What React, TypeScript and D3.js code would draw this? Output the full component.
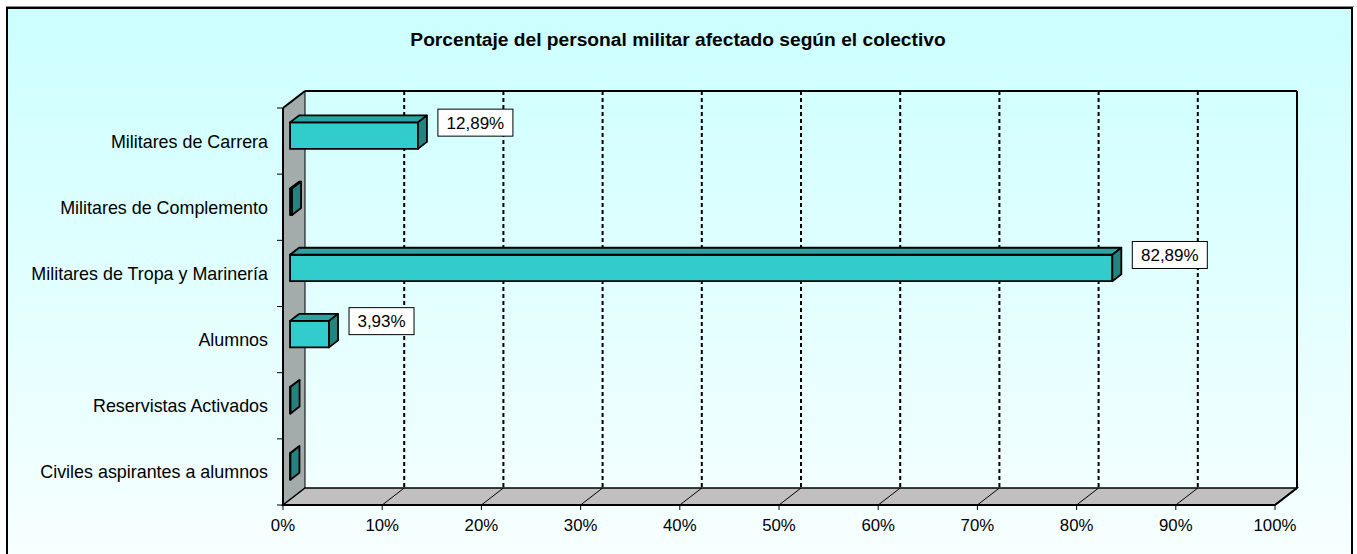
import React from "react";
import * as d3 from "d3";

const categories = [
  "Militares de Carrera",
  "Militares de Complemento",
  "Militares de Tropa y Marinería",
  "Alumnos",
  "Reservistas Activados",
  "Civiles aspirantes a alumnos",
];
const values = [12.89, 0.2, 82.89, 3.93, 0.05, 0.04];
const dataLabels = ["12,89%", null, "82,89%", "3,93%", null, null];
const xTicks = [0, 10, 20, 30, 40, 50, 60, 70, 80, 90, 100];
const xTickLabels = ["0%", "10%", "20%", "30%", "40%", "50%", "60%", "70%", "80%", "90%", "100%"];
const title = "Porcentaje del personal militar afectado según el colectivo";

const W = 1357;
const H = 554;
const FX0 = 283;
const FX1 = 1275;
const FY0 = 108;
const FY1 = 505;
const DX = 22;
const DY = -17;
const ZF = 0.32;
const ZB = 0.73;
const FONT = "'Liberation Sans', Arial, sans-serif";

export default function App() {
  const x = d3.scaleLinear().domain([0, 100]).range([FX0, FX1]);
  const y = d3.scaleBand().domain(categories).range([FY0, FY1]).padding(0);
  const step = y.step();
  const barH = step / 2.5;
  const P = (xv: number, yv: number, z: number): [number, number] => [x(xv) + z * DX, yv + z * DY];
  const poly = (pts: [number, number][]) => pts.map((p) => p.join(",")).join(" ");

  return (
    <svg width={W} height={H} style={{ position: "absolute", left: 0, top: 0 }} fontFamily={FONT}>
      <defs>
        <linearGradient id="bg" x1="0" y1="0" x2="0" y2="1">
          <stop offset="0" stopColor="#ccffff" />
          <stop offset="1" stopColor="#f8ffff" />
        </linearGradient>
      </defs>
      <rect x={0} y={0} width={W} height={H} fill="#ffffff" />
      <rect x={7} y={8} width={1345} height={560} fill="url(#bg)" stroke="#000" strokeWidth={2} />
      <line x1={6} y1={6.5} x2={1354} y2={6.5} stroke="#888" strokeWidth={1} />

      <text x={678} y={46} textAnchor="middle" fontWeight="bold" fontSize={19.2} fill="#000">
        {title}
      </text>

      {/* left wall */}
      <polygon
        points={poly([[FX0, FY0], [FX0, FY1], [FX0 + DX, FY1 + DY], [FX0 + DX, FY0 + DY]])}
        fill="#a3abab"
        stroke="#000"
        strokeWidth={1}
      />
      {/* floor */}
      <polygon
        points={poly([[FX0, FY1], [FX1, FY1], [FX1 + DX, FY1 + DY], [FX0 + DX, FY1 + DY]])}
        fill="#c0c0c0"
        stroke="#000"
        strokeWidth={1.5}
      />
      {/* floor diagonals */}
      {xTicks.slice(1, -1).map((t) => (
        <line key={"fd" + t} x1={x(t)} y1={FY1} x2={x(t) + DX} y2={FY1 + DY} stroke="#000" strokeWidth={1} />
      ))}
      {/* back gridlines */}
      {xTicks.slice(1, -1).map((t) => (
        <line
          key={"g" + t}
          x1={x(t) + DX}
          y1={FY0 + DY}
          x2={x(t) + DX}
          y2={FY1 + DY}
          stroke="#000"
          strokeWidth={2}
          strokeDasharray="4,3"
        />
      ))}
      {/* back wall edges */}
      <line x1={FX0 + DX} y1={FY0 + DY} x2={FX1 + DX} y2={FY0 + DY} stroke="#000" strokeWidth={2} />
      <line x1={FX1 + DX} y1={FY0 + DY} x2={FX1 + DX} y2={FY1 + DY} stroke="#000" strokeWidth={2} />
      <line x1={FX0} y1={FY0} x2={FX0 + DX} y2={FY0 + DY} stroke="#000" strokeWidth={2} />
      <line x1={FX1} y1={FY1} x2={FX1 + DX} y2={FY1 + DY} stroke="#000" strokeWidth={2} />
      {/* front axes */}
      <line x1={FX0} y1={FY0} x2={FX0} y2={FY1} stroke="#000" strokeWidth={2} />
      <line x1={FX0} y1={FY1} x2={FX1} y2={FY1} stroke="#000" strokeWidth={2} />
      {d3.range(categories.length + 1).map((i) => (
        <line key={"yt" + i} x1={FX0 - 6} y1={FY0 + i * step} x2={FX0} y2={FY0 + i * step} stroke="#000" strokeWidth={1} />
      ))}
      {xTicks.map((t) => (
        <line key={"xt" + t} x1={x(t)} y1={FY1} x2={x(t)} y2={FY1 + 5} stroke="#000" strokeWidth={1} />
      ))}
      {xTicks.map((t, i) => (
        <text key={"xl" + t} x={x(t)} y={531} textAnchor="middle" fontSize={16.8} fill="#000">
          {xTickLabels[i]}
        </text>
      ))}
      {categories.map((c) => (
        <text
          key={"cl" + c}
          x={268}
          y={(y(c) as number) + step / 2 + 6.5}
          textAnchor="end"
          fontSize={17.9}
          fill="#000"
        >
          {c}
        </text>
      ))}

      {/* bars */}
      {categories.map((c, i) => {
        const v = values[i];
        const cy = (y(c) as number) + step / 2;
        const t = cy - barH / 2;
        const b = cy + barH / 2;
        const front = poly([P(0, t, ZF), P(v, t, ZF), P(v, b, ZF), P(0, b, ZF)]);
        const top = poly([P(0, t, ZF), P(v, t, ZF), P(v, t, ZB), P(0, t, ZB)]);
        const side = poly([P(v, t, ZF), P(v, t, ZB), P(v, b, ZB), P(v, b, ZF)]);
        return (
          <g key={"b" + c} stroke="#000" strokeWidth={1.8} strokeLinejoin="round">
            <polygon points={front} fill="#33cccc" />
            <polygon points={top} fill="#2aa5a2" />
            <polygon points={side} fill="#23837f" />
          </g>
        );
      })}

      {/* data labels */}
      {categories.map((c, i) => {
        const lab = dataLabels[i];
        if (!lab) return null;
        const v = values[i];
        const cy = (y(c) as number) + step / 2 + ZF * DY;
        const bx = x(v) + ZF * DX + 20;
        const bw = lab.length * 10 + 15;
        const bcy = cy - 13;
        return (
          <g key={"dl" + c}>
            <rect x={bx} y={bcy - 13.5} width={bw} height={27} fill="#fff" stroke="#000" strokeWidth={1} />
            <text x={bx + bw / 2} y={bcy + 6} textAnchor="middle" fontSize={17} fill="#000">
              {lab}
            </text>
          </g>
        );
      })}
    </svg>
  );
}
